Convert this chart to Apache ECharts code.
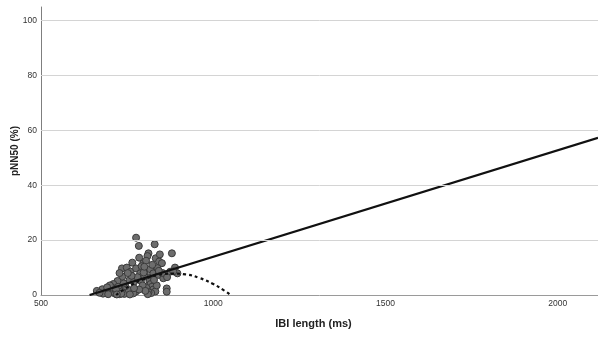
<!DOCTYPE html>
<html>
<head>
<meta charset="utf-8">
<script src="https://cdn.jsdelivr.net/npm/echarts@6/dist/echarts.min.js"></script>
<style>
  html, body { margin: 0; padding: 0; background: #fff; }
  #chart { width: 598px; height: 338px; }
</style>
</head>
<body>
<div id="chart"></div>
<script>
// Mean inter-beat interval (ms) and pNN50 (%) per recording
const ibi = [776, 784, 830, 880, 812, 809, 785, 833, 843, 851, 765, 797, 735, 749, 760, 776, 788, 802, 817, 826,
  841, 855, 889, 896, 875, 736, 722, 710, 724, 700, 678, 690, 710, 734, 749, 763, 776, 865, 865, 810,
  815, 818, 822, 826, 832, 820, 806, 812, 836, 828, 853, 884, 680, 695, 705, 715, 728, 742, 755, 768,
  700, 718, 745, 757, 770, 790, 795, 780, 763, 800, 805, 792, 752, 728, 740, 692, 662, 670, 810, 803,
  838, 845, 785, 770, 758, 798, 823, 733, 720, 800, 842, 866];
const pnn50 = [20.9, 17.9, 18.5, 15.2, 15.2, 14.2, 13.6, 13.4, 12.2, 11.6, 11.8, 11.6, 9.7, 10.0, 8.5, 9.7, 7.9, 9.1, 9.4, 7.9,
  7.3, 6.1, 10.0, 7.9, 8.5, 6.7, 5.1, 4.0, 3.0, 2.4, 2.1, 1.2, 1.2, 1.2, 1.0, 1.0, 1.3, 2.4, 1.2, 6.5,
  5.0, 4.0, 3.0, 2.0, 1.3, 0.7, 2.6, 1.0, 3.5, 5.5, 8.0, 8.6, 0.5, 0.3, 2.8, 0.5, 0.3, 0.4, 1.8, 0.6,
  3.5, 2.0, 3.2, 5.5, 4.8, 5.2, 3.5, 6.5, 7.0, 7.0, 12.5, 10.5, 8.0, 8.0, 4.2, 2.8, 1.5, 0.8, 0.3, 1.5,
  9.8, 14.8, 2.0, 2.5, 0.2, 8.2, 11.0, 0.5, 0.2, 10.3, 8.8, 6.5];

// Linear fit line (drawn where it is above zero)
const linX = [641, 2117];
const linY = [0, 57.3];

// Quadratic fit curve
const quadX = [718, 760, 800, 840, 884, 920, 960, 1000, 1030, 1050];
const quadY = [0, 3.5, 5.8, 7.3, 7.8, 7.5, 6.2, 4.0, 1.8, 0];

// Axis ticks
const xTicks = [500, 1000, 1500, 2000];
const yTicks = [0, 20, 40, 60, 80, 100];
const yGrid = [20, 40, 60, 80, 100];

const zip = (a, b) => a.map((v, i) => [v, b[i]]);
const font = '"Liberation Sans", Arial, sans-serif';

const chart = echarts.init(document.getElementById('chart'), null, { renderer: 'canvas' });
chart.setOption({
  animation: false,
  backgroundColor: '#ffffff',
  grid: { left: 41, right: 0, top: 7, bottom: 43, containLabel: false, outerBoundsMode: 'none' },
  xAxis: {
    type: 'value',
    min: 500,
    max: 2117,
    interval: 500,
    name: 'IBI length (ms)',
    nameLocation: 'middle',
    nameGap: 23,
    nameMoveOverlap: false,
    nameTextStyle: { fontFamily: font, fontSize: 11, fontWeight: 'bold', color: '#222', padding: [0, 12, 0, 0] },
    axisLine: { show: true, lineStyle: { color: '#9a9a9a', width: 1 } },
    axisTick: { show: false },
    splitLine: { show: false },
    axisLabel: {
      fontFamily: font, fontSize: 8.5, color: '#333', margin: 4,
      showMaxLabel: false,
      formatter: v => (xTicks.includes(v) ? String(v) : '')
    }
  },
  yAxis: {
    type: 'value',
    min: 0,
    max: 105,
    interval: 20,
    name: 'pNN50 (%)',
    nameLocation: 'middle',
    nameGap: 21,
    nameMoveOverlap: false,
    nameTextStyle: { fontFamily: font, fontSize: 10, fontWeight: 'bold', color: '#222' },
    axisLine: { show: true, lineStyle: { color: '#7f7f7f', width: 1 } },
    axisTick: { show: false },
    splitLine: { show: false },
    axisLabel: {
      fontFamily: font, fontSize: 8.5, color: '#333', margin: 4,
      showMaxLabel: false,
      formatter: v => (yTicks.includes(v) ? String(v) : '')
    }
  },
  series: [
    {
      // horizontal reference lines
      type: 'line',
      data: [],
      silent: true,
      markLine: {
        silent: true,
        symbol: 'none',
        label: { show: false },
        lineStyle: { color: '#d4d4d4', width: 1, type: 'solid' },
        data: yGrid.map(v => ({ yAxis: v }))
      },
      z: 1
    },
    {
      type: 'scatter',
      data: zip(ibi, pnn50),
      symbol: 'circle',
      symbolSize: 7,
      itemStyle: { color: '#6d6d6d', borderColor: '#3a3a3a', borderWidth: 1, opacity: 1 },
      z: 2
    },
    {
      type: 'line',
      data: zip(linX, linY),
      showSymbol: false,
      lineStyle: { color: '#111', width: 2.2 },
      z: 3
    },
    {
      type: 'line',
      data: zip(quadX, quadY),
      smooth: true,
      showSymbol: false,
      lineStyle: { color: '#111', width: 2.2, type: [3, 3] },
      z: 3
    }
  ]
});
</script>
</body>
</html>
